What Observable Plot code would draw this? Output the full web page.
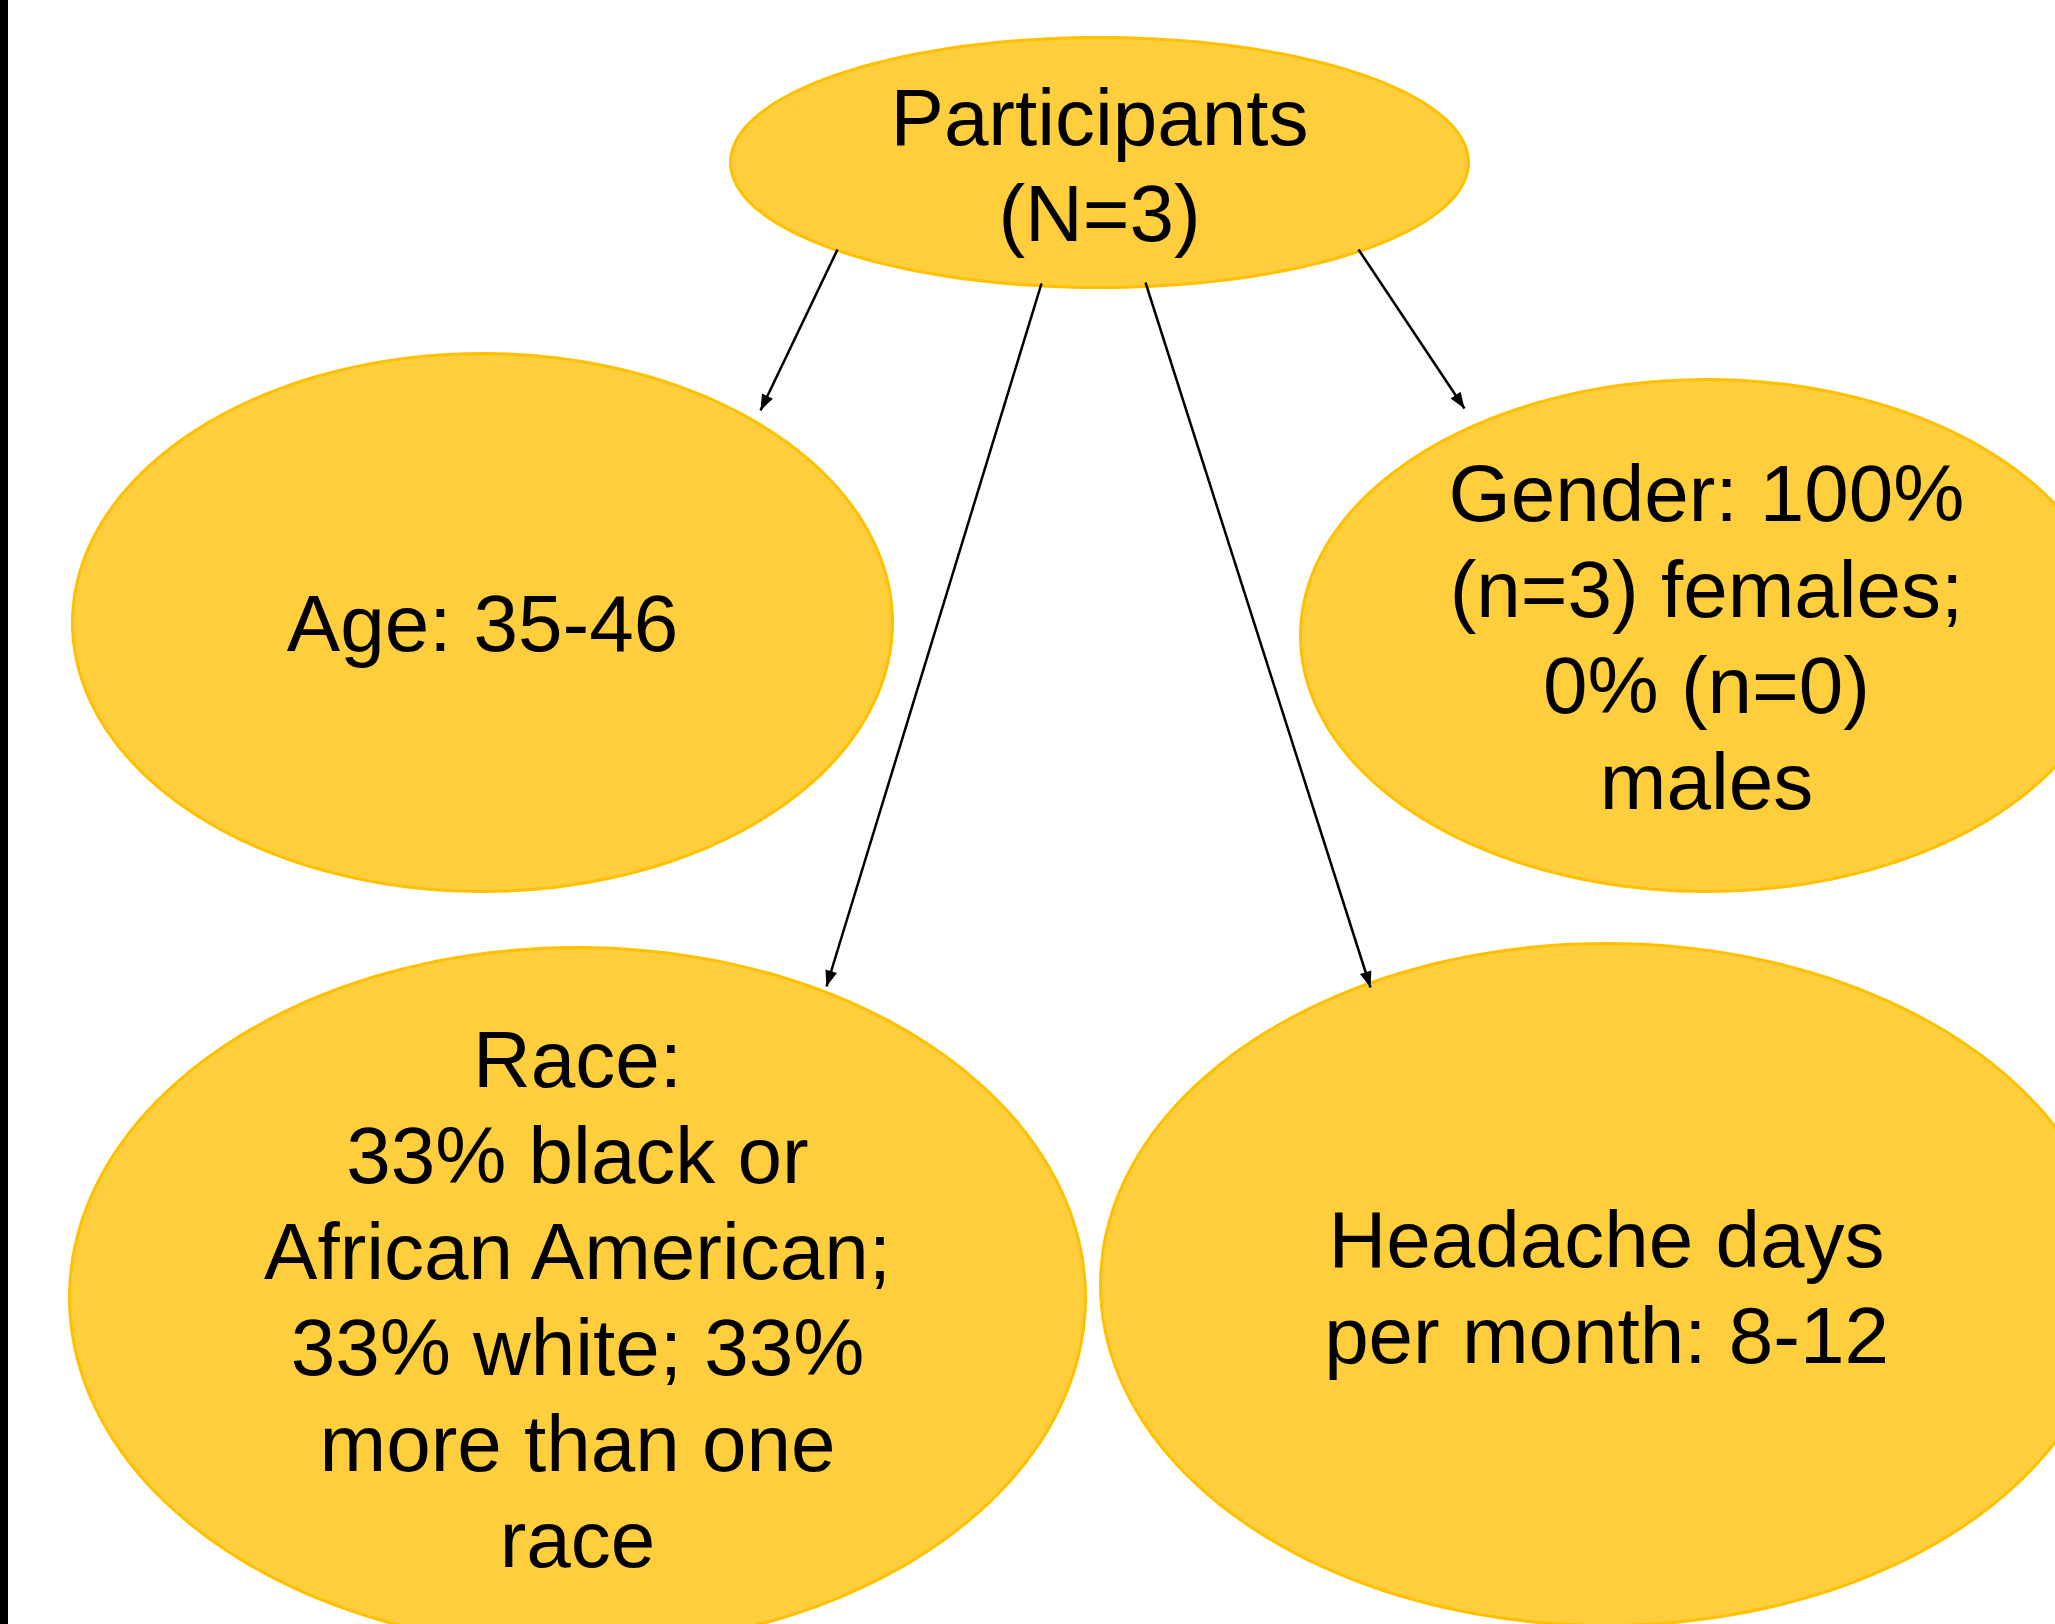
<!DOCTYPE html>
<html>
<head>
<meta charset="utf-8">
<script src="https://cdn.jsdelivr.net/npm/d3@7"></script>
<script src="https://cdn.jsdelivr.net/npm/@observablehq/plot@0.6"></script>
<style>
  html, body { margin: 0; padding: 0; background: #fff; overflow: hidden; }
  #wrap { position: relative; width: 2055px; height: 1624px; }
  #bar { position: absolute; left: 0; top: 0; width: 8px; height: 1624px; background: #000; }
  #chart svg { display: block; max-width: none; }
</style>
</head>
<body>
<div id="wrap"><div id="chart"></div><div id="bar"></div></div>
<script>
// ---- Data ----
const nodeIds = ["participants", "age", "gender", "race", "headache"];
const nodeLabels = [
  "Participants\n(N=3)",
  "Age: 35-46",
  "Gender: 100%\n(n=3) females;\n0% (n=0)\nmales",
  "Race:\n33% black or\nAfrican American;\n33% white; 33%\nmore than one\nrace",
  "Headache days\nper month: 8-12"
];
const edgeFrom = ["participants", "participants", "participants", "participants"];
const edgeTo = ["age", "race", "headache", "gender"];

// ---- Layout (pixel positions of the diagram) ----
const layout = {
  participants: {cx: 1099, cy: 162, rx: 369, ry: 125, ty: 162},
  age:          {cx: 482,  cy: 622, rx: 410, ry: 269, ty: 620},
  gender:       {cx: 1706, cy: 635, rx: 406, ry: 256, ty: 634},
  race:         {cx: 577,  cy: 1297, rx: 508, ry: 350, ty: 1296},
  headache:     {cx: 1606, cy: 1284, rx: 506, ry: 341, ty: 1284}
};
const edgeLayout = {
  age:      {x1: 837,  y1: 249, x2: 760,  y2: 410},
  race:     {x1: 1041, y1: 283, x2: 826,  y2: 986},
  headache: {x1: 1145, y1: 282, x2: 1370, y2: 987},
  gender:   {x1: 1358, y1: 249, x2: 1464, y2: 408}
};

const W = 2055, H = 1624;
const fillColor = "#FFCE3C", strokeColor = "#FFC000";

const nodes = nodeIds.map((id, i) => ({id, label: nodeLabels[i], ...layout[id]}));
const edges = edgeTo.map((to, i) => ({from: edgeFrom[i], to, ...edgeLayout[to]}));

const N = 180;
const outline = nodes.flatMap(n => d3.range(N).map(k => {
  const a = 2 * Math.PI * k / N;
  return {id: n.id, x: n.cx + n.rx * Math.cos(a), y: n.cy + n.ry * Math.sin(a)};
}));

const head = {
  draw(ctx) {
    ctx.moveTo(0, 0);
    ctx.lineTo(-6, 16);
    ctx.lineTo(6, 16);
    ctx.closePath();
  }
};

const chart = Plot.plot({
  width: W,
  height: H,
  margin: 0,
  style: {background: "#fff"},
  x: {domain: [0, W], range: [0, W], axis: null},
  y: {domain: [0, H], range: [0, H], axis: null},
  marks: [
    Plot.line(outline, {x: "x", y: "y", z: "id", curve: "linear-closed",
      fill: fillColor, stroke: strokeColor, strokeWidth: 3}),
    Plot.text(nodes, {x: "cx", y: "ty", text: "label", fontSize: 80, lineHeight: 1.2,
      fontFamily: "'Liberation Sans', Arial, sans-serif", fill: "#000"}),
    Plot.link(edges, {x1: "x1", y1: "y1", x2: "x2", y2: "y2", stroke: "#000", strokeWidth: 2.5}),
    Plot.dot(edges, {x: "x2", y: "y2", symbol: head, fill: "#000", stroke: "none",
      rotate: d => Math.atan2(d.x2 - d.x1, -(d.y2 - d.y1)) * 180 / Math.PI})
  ]
});
document.getElementById("chart").appendChild(chart);
</script>
</body>
</html>
